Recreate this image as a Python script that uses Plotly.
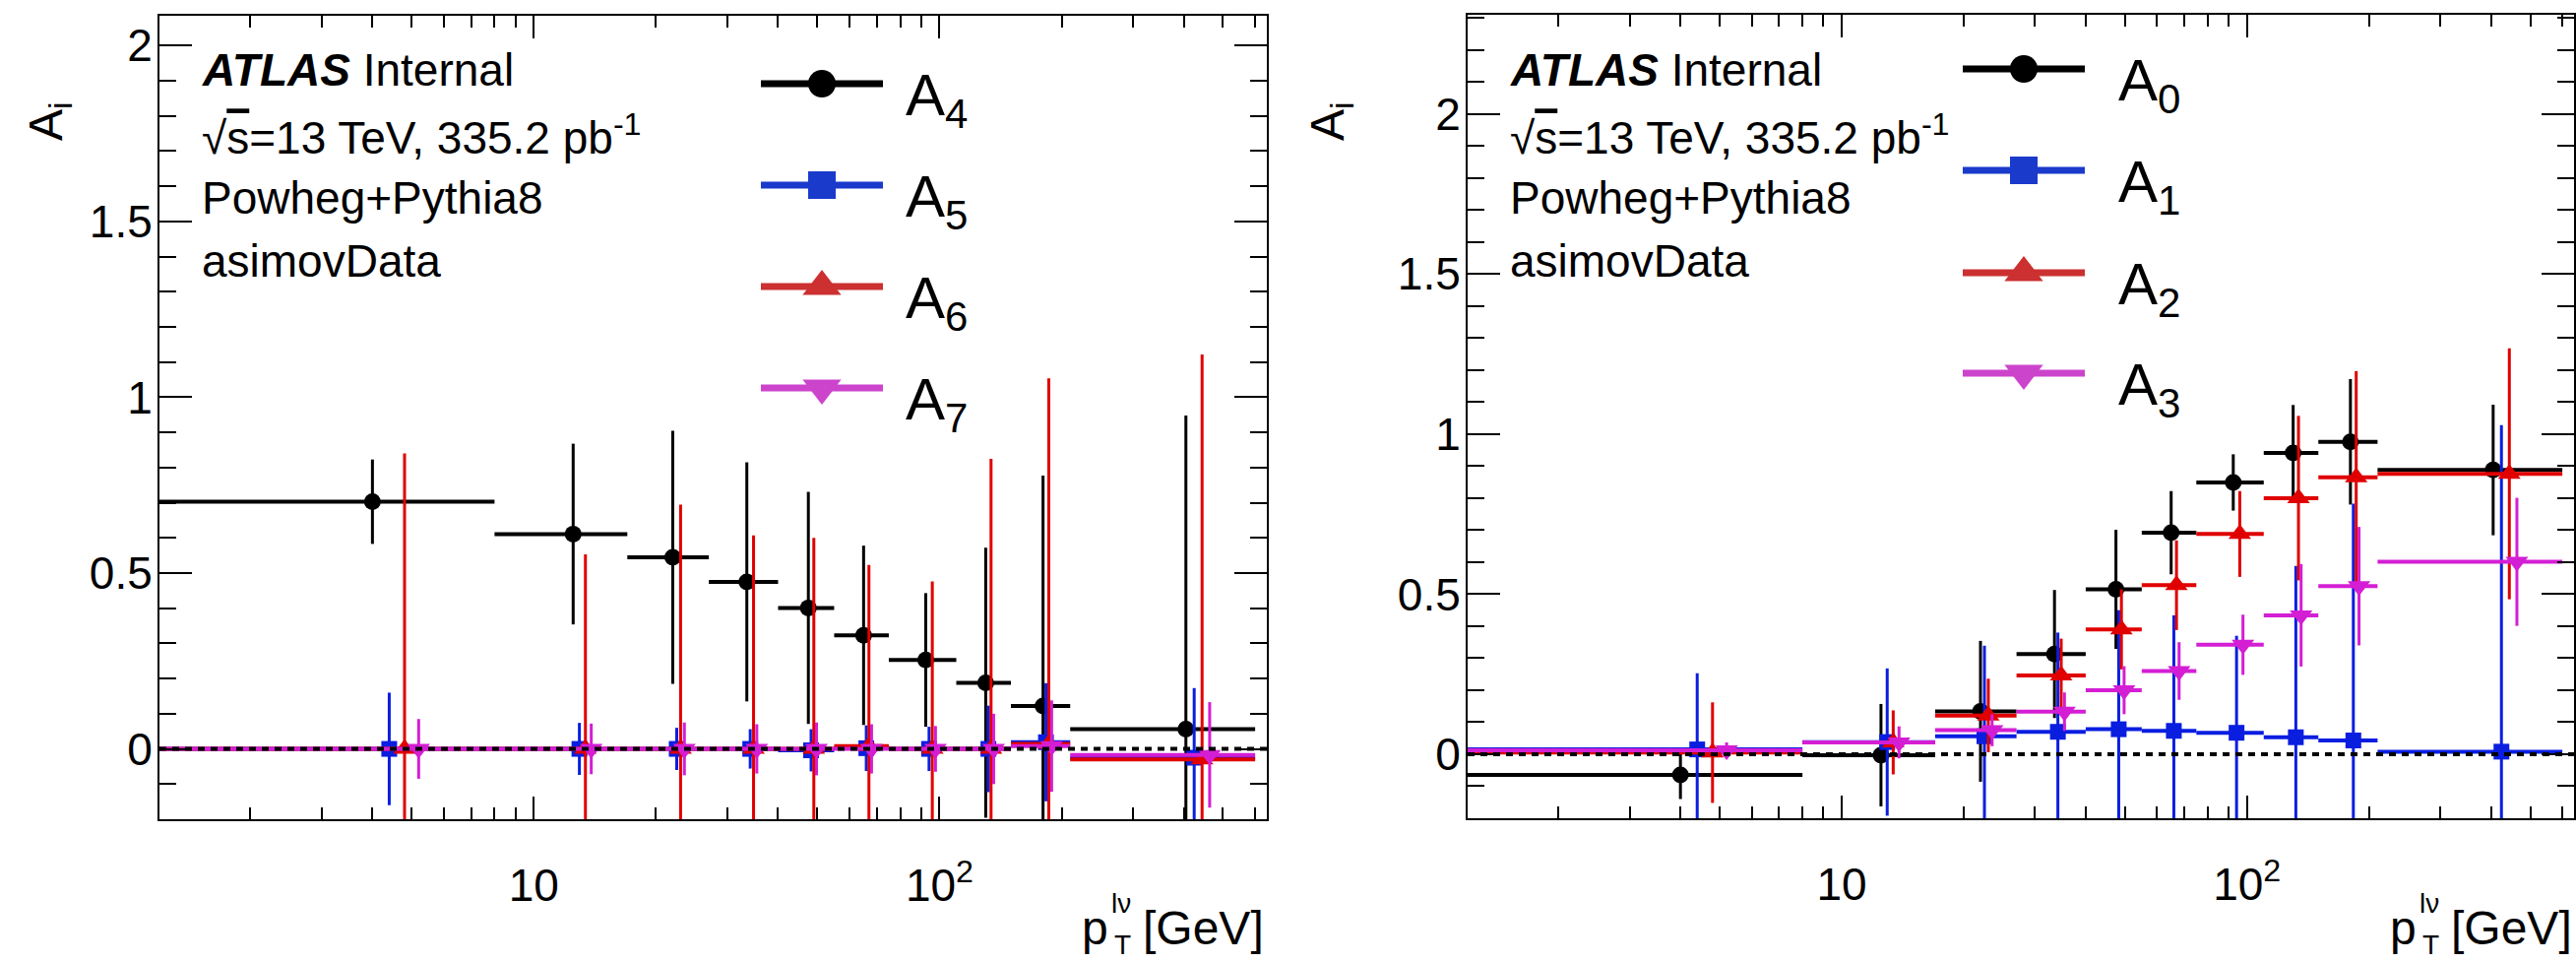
import math
import plotly.graph_objects as go

W, H = 2617, 977
FONT = "Liberation Sans, Arial, Helvetica, sans-serif"

# ---------------- data ----------------
edges = [0, 8, 17, 27, 40, 55, 75, 110, 150, 210, 600]

# left panel
A4 = [0.703, 0.611, 0.545, 0.475, 0.401, 0.323, 0.253, 0.188, 0.122, 0.056]
A4_err = [0.12, 0.257, 0.36, 0.34, 0.33, 0.255, 0.19, 0.384, 0.655, 0.892]
A5 = [0.0, 0.0, 0.0, 0.0, -0.004, 0.002, 0.0, 0.0, 0.019, -0.025]
A5_err = [0.16, 0.074, 0.06, 0.056, 0.06, 0.065, 0.063, 0.123, 0.168, 0.198]
A6 = [0.0, 0.0, 0.0, 0.0, 0.0, 0.008, 0.0, 0.0, 0.014, -0.03]
A6_err = [0.84, 0.553, 0.695, 0.607, 0.6, 0.515, 0.476, 0.825, 1.04, 1.152]
A7 = [0.0, 0.0, 0.0, 0.0, 0.0, 0.0, 0.0, 0.0, 0.008, -0.017]
A7_err = [0.085, 0.072, 0.075, 0.07, 0.075, 0.07, 0.065, 0.1, 0.13, 0.15]

# right panel
A0 = [-0.065, -0.003, 0.134, 0.313, 0.515, 0.692, 0.849, 0.941, 0.976, 0.888]
A0_err = [0.075, 0.16, 0.22, 0.2, 0.186, 0.13, 0.088, 0.15, 0.196, 0.204]
A1 = [0.015, 0.038, 0.056, 0.07, 0.078, 0.073, 0.067, 0.053, 0.043, 0.008]
A1_err = [0.238, 0.23, 0.283, 0.31, 0.372, 0.361, 0.303, 0.535, 0.74, 1.02]
A2 = [0.005, 0.037, 0.121, 0.246, 0.39, 0.528, 0.688, 0.8, 0.865, 0.876]
A2_err = [0.157, 0.1, 0.115, 0.115, 0.125, 0.14, 0.134, 0.257, 0.332, 0.392]
A3 = [0.012, 0.037, 0.075, 0.133, 0.2, 0.26, 0.342, 0.434, 0.525, 0.601]
A3_err = [0.025, 0.05, 0.05, 0.06, 0.075, 0.09, 0.094, 0.16, 0.185, 0.2]

left_names = ["4", "5", "6", "7"]
right_names = ["0", "1", "2", "3"]

y_ticks = [0, 0.5, 1, 1.5, 2]
y_ticktext = ["0", "0.5", "1", "1.5", "2"]
x_ticks = [10, 100]
x_ticktext = ["10", "10<sup>2</sup>"]
x_minor = [2, 3, 4, 5, 6, 7, 8, 9, 20, 30, 40, 50, 60, 70, 80, 90, 200, 300, 400, 500, 600]

# ---------------- styles ----------------
COLORS = ["#000000", "#0a1ee0", "#e00000", "#d41ed4"]
LEG_COLORS = ["#000000", "#1a3acc", "#cc3030", "#cc44cc"]
SYMBOLS = ["circle", "square", "triangle-up", "triangle-down"]
DATA_SIZES = [17, 16, 20, 20]
LEG_SIZES = [28, 28, 34, 34]

fig = go.Figure()


def add_series(vals, errs, k, xa, ya):
    lo = edges[:-1]
    hi = edges[1:]
    xs = [(a + b) / 2 + k * 0.05 * (b - a) for a, b in zip(lo, hi)]
    plus = [b - x for b, x in zip(hi, xs)]
    minus = [x - a for a, x in zip(lo, xs)]
    fig.add_trace(go.Scatter(
        x=xs, y=vals, mode="markers", xaxis=xa, yaxis=ya, showlegend=False,
        marker=dict(symbol=SYMBOLS[k], size=DATA_SIZES[k], color=COLORS[k], line=dict(width=0)),
        error_y=dict(type="data", array=errs, thickness=3, width=0, color=COLORS[k]),
        error_x=dict(type="data", symmetric=False, array=plus, arrayminus=minus,
                     thickness=4, width=0, color=COLORS[k]),
        hoverinfo="skip",
    ))


for k, (v, e) in enumerate([(A4, A4_err), (A5, A5_err), (A6, A6_err), (A7, A7_err)]):
    add_series(v, e, k, "x", "y")
for k, (v, e) in enumerate([(A0, A0_err), (A1, A1_err), (A2, A2_err), (A3, A3_err)]):
    add_series(v, e, k, "x2", "y2")

# ---------------- layout helpers ----------------
def px(xp):
    return xp / W


def py(yp):
    return 1 - yp / H


panels = {
    "left": dict(x0=162, x1=1287, y0=16, y1=832, yr=[-0.2, 2.085]),
    "right": dict(x0=1491, x1=2615, y0=15, y1=831, yr=[-0.2, 2.31]),
}
XR = [0.077, 2.807]

def xaxis_cfg(p):
    return dict(
        type="log", range=XR, domain=[px(p["x0"]), px(p["x1"])],
        tickvals=x_ticks, ticktext=x_ticktext, ticks="inside", ticklen=23, tickwidth=2,
        tickcolor="black", showline=True, linecolor="black", linewidth=2, mirror="allticks",
        showgrid=False, zeroline=False, ticklabelstandoff=26,
        tickfont=dict(family=FONT, size=46, color="black"),
        minor=dict(tickvals=x_minor, ticks="inside", ticklen=12, tickwidth=2, tickcolor="black",
                   showgrid=False),
    )


def yaxis_cfg(p, anchor):
    return dict(
        range=p["yr"], domain=[py(p["y1"]), py(p["y0"])], anchor=anchor,
        tickvals=y_ticks, ticktext=y_ticktext, ticks="inside", ticklen=33, tickwidth=2,
        tickcolor="black", showline=True, linecolor="black", linewidth=2, mirror="allticks",
        showgrid=False, zeroline=False, ticklabelstandoff=-4,
        tickfont=dict(family=FONT, size=46, color="black"),
        minor=dict(dtick=0.1, ticks="inside", ticklen=17, tickwidth=2, tickcolor="black",
                   showgrid=False),
    )


L = panels["left"]
R = panels["right"]

fig.update_layout(
    width=W, height=H, margin=dict(l=0, r=0, t=0, b=0),
    paper_bgcolor="white", plot_bgcolor="rgba(0,0,0,0)", showlegend=False,
    xaxis=dict(xaxis_cfg(L), anchor="y"),
    yaxis=yaxis_cfg(L, "x"),
    xaxis2=dict(xaxis_cfg(R), anchor="y2"),
    yaxis2=yaxis_cfg(R, "x2"),
    xaxis3=dict(domain=[0, 1], range=[0, W], visible=False, anchor="y3"),
    yaxis3=dict(domain=[0, 1], range=[H, 0], visible=False, anchor="x3"),
    font=dict(family=FONT, color="black"),
)

# dotted zero lines on top
for xr, yr in [("x domain", "y"), ("x2 domain", "y2")]:
    fig.add_shape(type="line", xref=xr, yref=yr, x0=0, x1=1, y0=0, y1=0, layer="above",
                  line=dict(color="black", width=4, dash="7px,6px"))

# ---------------- legends (pixel placement) ----------------
def legend(names, x_line0, x_line1, x_text, rows):
    xm = (x_line0 + x_line1) / 2
    for k, (nm, yr) in enumerate(zip(names, rows)):
        fig.add_trace(go.Scatter(x=[x_line0, x_line1], y=[yr, yr], mode="lines", xaxis="x3", yaxis="y3",
                                 line=dict(color=LEG_COLORS[k], width=7), showlegend=False, hoverinfo="skip"))
        fig.add_trace(go.Scatter(x=[xm], y=[yr], mode="markers", xaxis="x3", yaxis="y3",
                                 marker=dict(symbol=SYMBOLS[k], size=LEG_SIZES[k], color=LEG_COLORS[k],
                                             line=dict(width=0)),
                                 showlegend=False, hoverinfo="skip", cliponaxis=False))
        fig.add_annotation(x=px(x_text), y=py(yr + 16), xref="paper", yref="paper", xanchor="left",
                           yanchor="middle", showarrow=False, text="A<sub>%s</sub>" % nm,
                           font=dict(family=FONT, size=60, color="black"))


legend(left_names, 773, 897, 918, [85, 188, 291, 394])
legend(right_names, 1994, 2118, 2150, [70, 173, 277, 379])

# ---------------- text blocks ----------------
def text_block(x0):
    lines = ["<b><i>ATLAS</i></b> Internal",
             "√<span style='text-decoration:overline'>s</span>=13 TeV, 335.2 pb<sup>-1</sup>",
             "Powheg+Pythia8", "asimovData"]
    ys = [71, 137, 201, 265]
    for t, yy in zip(lines, ys):
        fig.add_annotation(x=px(x0), y=py(yy), xref="paper", yref="paper", xanchor="left", yanchor="middle",
                           showarrow=False, text=t, font=dict(family=FONT, size=46, color="black"))


text_block(203)
text_block(1532)

# ---------------- axis titles ----------------
def titles(ytx, yty, x_right):
    fig.add_annotation(x=px(ytx), y=py(yty), xref="paper", yref="paper", xanchor="center", yanchor="middle",
                       showarrow=False, textangle=-90, text="A<sub>i</sub>",
                       font=dict(family=FONT, size=48, color="black"))
    fig.add_annotation(x=px(x_right), y=py(942), xref="paper", yref="paper", xanchor="right", yanchor="middle",
                       showarrow=False, text="[GeV]", font=dict(family=FONT, size=48, color="black"))
    fig.add_annotation(x=px(x_right - 158), y=py(942), xref="paper", yref="paper", xanchor="right",
                       yanchor="middle", showarrow=False, text="p", font=dict(family=FONT, size=48, color="black"))
    fig.add_annotation(x=px(x_right - 159), y=py(917), xref="paper", yref="paper", xanchor="left",
                       yanchor="middle", showarrow=False, text="lν", font=dict(family=FONT, size=28, color="black"))
    fig.add_annotation(x=px(x_right - 156), y=0, xref="paper", yref="paper", xanchor="left",
                       yanchor="bottom", showarrow=False, text="T", font=dict(family=FONT, size=28, color="black"))


titles(50, 124, 1286)
titles(1352, 124, 2615)

fig.write_html("out.html")
